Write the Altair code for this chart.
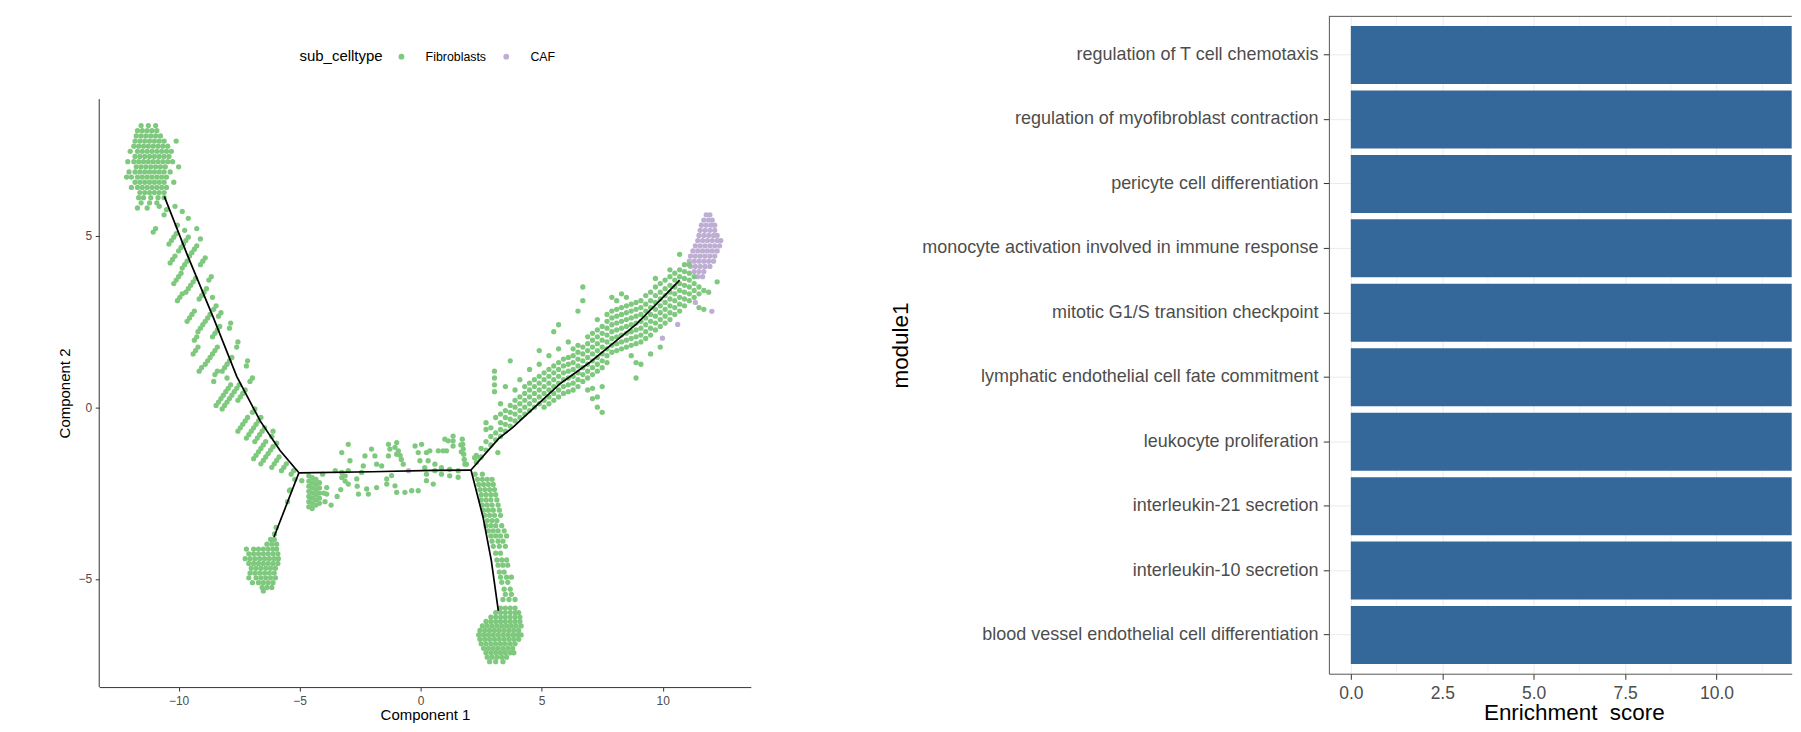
import altair as alt
import pandas as pd

# ---------------- left panel: cell trajectory ----------------
# dense top-left state: {Component 2 value: [Component 1 values]}
TL_BLOB = {
    8.2: [-11.55, -11.25, -10.95],
    8.05: [-11.7, -11.5, -11.3, -11.1, -10.9],
    7.9: [-11.75, -11.55, -11.35, -11.15, -10.95, -10.75],
    7.75: [-11.8, -11.6, -11.4, -11.2, -11.0, -10.8, -10.6, -10.1],
    7.6: [-11.85, -11.65, -11.45, -11.25, -11.05, -10.85, -10.65, -10.45],
    7.45: [-12.0, -11.7, -11.5, -11.3, -11.1, -10.9, -10.7, -10.5, -10.3],
    7.3: [-11.8, -11.6, -11.4, -11.2, -11.0, -10.8, -10.6, -10.4],
    7.15: [-12.1, -11.85, -11.65, -11.45, -11.25, -11.05, -10.85, -10.65, -10.45, -10.25],
    7.0: [-11.75, -11.55, -11.35, -11.15, -10.95, -10.75, -10.55, -10.0],
    6.85: [-12.05, -11.8, -11.6, -11.4, -11.2, -11.0, -10.8, -10.6, -10.35],
    6.7: [-12.15, -11.95, -11.7, -11.5, -11.3, -11.1, -10.9, -10.7, -10.5],
    6.55: [-11.8, -11.6, -11.4, -11.2, -11.0, -10.8, -10.6, -10.2],
    6.4: [-11.95, -11.7, -11.5, -11.3, -11.1, -10.9, -10.7, -10.5],
    6.25: [-11.6, -11.4, -11.2, -11.0, -10.8, -10.6],
    6.1: [-11.65, -11.45, -11.15, -10.85, -10.6],
    5.95: [-11.55, -11.2, -10.9],
    5.8: [-11.7, -11.3],
}

# upper-left branch: (Component 1, Component 2)
TL_BRANCH = [
    (-11.05, 5.1), (-10.95, 5.2), (-10.8, 5.85), (-10.6, 5.6), (-10.5, 5.75), (-10.15, 5.85),
    (-9.85, 5.7), (-9.6, 5.5), (-10.05, 5.3), (-9.75, 5.15), (-9.25, 5.2), (-9.1, 4.9),
    (-10.4, 4.75), (-10.3, 4.85), (-10.2, 4.95), (-10.1, 5.05), (-10.0, 4.55), (-9.9, 4.65),
    (-9.8, 4.75), (-9.7, 4.85), (-9.6, 4.95), (-9.55, 4.4), (-9.45, 4.5), (-9.35, 4.6),
    (-9.25, 4.7), (-10.35, 4.2), (-10.25, 4.3), (-10.15, 4.4), (-9.1, 4.15), (-9.0, 4.25),
    (-8.9, 4.35), (-9.85, 4.05), (-9.75, 4.15), (-9.65, 4.25),
    (-10.2, 3.6), (-10.1, 3.7), (-10.0, 3.8), (-9.9, 3.9), (-9.7, 3.35), (-9.6, 3.45),
    (-9.5, 3.55), (-9.4, 3.65), (-9.3, 3.75), (-9.15, 3.15), (-9.05, 3.25), (-8.95, 3.35),
    (-8.85, 3.45), (-8.75, 3.7), (-8.65, 3.8), (-10.05, 3.1), (-9.95, 3.2), (-9.85, 3.3),
    (-8.6, 3.2),
    (-9.65, 2.5), (-9.55, 2.6), (-9.45, 2.7), (-9.35, 2.8), (-9.2, 2.2), (-9.1, 2.3),
    (-9.0, 2.4), (-8.9, 2.5), (-8.8, 2.6), (-8.7, 2.7), (-8.55, 2.85), (-8.45, 2.95),
    (-8.35, 2.65), (-8.25, 2.75), (-8.6, 2.05), (-8.5, 2.15), (-8.4, 2.25), (-8.3, 2.35),
    (-9.35, 1.95), (-9.25, 2.05), (-7.9, 2.3), (-7.85, 2.45),
    (-9.4, 1.55), (-9.3, 1.65), (-9.2, 1.75), (-8.9, 1.25), (-8.8, 1.35), (-8.7, 1.45),
    (-8.6, 1.55), (-8.5, 1.65), (-8.4, 1.75), (-8.2, 1.05), (-8.1, 1.15), (-8.0, 1.25),
    (-7.9, 1.35), (-7.8, 1.45), (-8.5, 0.95), (-8.4, 1.05), (-7.6, 1.75), (-7.55, 1.9),
    (-7.2, 1.2), (-7.15, 1.35), (-9.15, 1.05), (-9.05, 1.15),
    (-8.45, 0.05), (-8.35, 0.15), (-8.25, 0.25), (-8.15, 0.35), (-8.05, 0.45), (-7.95, 0.55),
    (-7.85, 0.65), (-8.2, -0.05), (-8.1, 0.05), (-8.0, 0.15), (-7.9, 0.25), (-7.8, 0.35),
    (-7.7, 0.45), (-7.6, 0.55), (-7.5, 0.65), (-7.55, 0.2), (-7.45, 0.3), (-7.35, 0.4),
    (-7.25, 0.5), (-7.05, 0.75), (-6.95, 0.85), (-8.0, 0.85), (-8.55, 0.75),
    (-7.55, -0.7), (-7.45, -0.6), (-7.35, -0.5), (-7.25, -0.4), (-7.15, -0.3), (-7.2, -0.9),
    (-7.1, -0.8), (-7.0, -0.7), (-6.9, -0.6), (-6.8, -0.5), (-6.7, -0.4), (-6.6, -0.3),
    (-6.85, -1.0), (-6.75, -0.9), (-6.65, -0.8), (-6.55, -0.7), (-6.45, -0.6), (-6.95, -0.15),
    (-6.85, -0.05), (-6.15, -0.85), (-6.1, -0.7),
    (-6.9, -1.5), (-6.8, -1.4), (-6.7, -1.3), (-6.6, -1.2), (-6.5, -1.1), (-6.4, -1.0),
    (-6.6, -1.65), (-6.5, -1.55), (-6.4, -1.45), (-6.3, -1.35), (-6.2, -1.25), (-6.1, -1.15),
    (-6.15, -1.75), (-6.05, -1.65), (-5.95, -1.55), (-5.85, -1.45), (-5.75, -1.85),
    (-5.65, -1.75), (-5.55, -1.65), (-5.35, -1.95), (-5.25, -1.85), (-5.95, -1.05),
]

# lower-left state: {Component 2: [Component 1]}
BL_BLOB = {
    -3.85: [-6.2, -6.05],
    -3.99: [-6.35, -6.15, -5.95],
    -4.13: [-7.2, -6.9, -6.7, -6.5, -6.3, -6.1, -5.95],
    -4.27: [-7.1, -6.9, -6.7, -6.5, -6.3, -6.1, -5.9],
    -4.41: [-7.25, -7.05, -6.85, -6.65, -6.45, -6.25, -6.05, -5.88],
    -4.55: [-7.1, -6.9, -6.7, -6.5, -6.3, -6.1, -5.9],
    -4.69: [-7.0, -6.8, -6.6, -6.4, -6.2, -6.0],
    -4.83: [-7.05, -6.85, -6.65, -6.45, -6.25, -6.05],
    -4.97: [-7.1, -6.8, -6.6, -6.4, -6.2, -6.0],
    -5.11: [-6.95, -6.7, -6.5, -6.3, -6.1],
    -5.25: [-6.55, -6.35, -6.15],
    -5.35: [-6.5],
}
BL_LINK = [(-5.2, -2.1), (-5.39, -2.41), (-5.5, -2.75), (-5.97, -3.5), (-6.04, -3.69)]

# middle branch
MID = [
    (-4.91, -2.14), (-5.42, -2.43),
    (-4.62, -2.0), (-4.62, -2.15), (-4.62, -2.3), (-4.62, -2.45), (-4.62, -2.6), (-4.62, -2.75), (-4.62, -2.9),
    (-4.48, -2.05), (-4.48, -2.2), (-4.48, -2.35), (-4.48, -2.5), (-4.48, -2.65), (-4.48, -2.8), (-4.48, -2.95),
    (-4.33, -2.1), (-4.33, -2.25), (-4.33, -2.4), (-4.33, -2.55), (-4.33, -2.7), (-4.33, -2.85),
    (-4.18, -2.2), (-4.18, -2.35), (-4.18, -2.5), (-4.18, -2.65), (-4.18, -2.8),
    (-4.05, -1.95), (-4.0, -2.5), (-3.88, -2.34), (-3.88, -2.53),
    (-3.95, -2.75), (-3.7, -2.85), (-3.45, -2.6), (-3.3, -2.4),
    (-3.53, -1.85), (-3.26, -1.32), (-2.99, -1.08), (-2.92, -1.56),
    (-3.26, -1.9), (-3.26, -2.05), (-3.12, -2.0), (-3.12, -2.15), (-2.99, -1.85), (-2.99, -2.24),
    (-2.64, -2.09), (-2.62, -2.3), (-2.57, -2.53), (-2.44, -1.9), (-2.37, -1.71),
    (-2.3, -1.42), (-2.03, -1.22), (-1.89, -1.42), (-1.82, -1.66), (-2.23, -2.38), (-2.16, -2.53), (-1.82, -2.34),
    (-1.61, -1.71), (-1.33, -1.42), (-1.33, -1.08), (-1.27, -1.22), (-1.06, -1.17), (-0.99, -1.37), (-0.99, -1.03),
    (-1.4, -2.09), (-1.4, -2.24), (-1.2, -1.99), (-1.06, -2.29), (-0.99, -2.48),
    (-0.92, -1.27), (-0.85, -1.4), (-0.8, -1.52), (-0.72, -1.66),
    (-0.65, -2.48), (-0.37, -2.43), (-0.1, -2.43),
    (-0.23, -1.13), (-0.1, -1.32), (-0.03, -1.56), (0.04, -1.08), (0.24, -1.32), (0.31, -1.56), (0.38, -1.27),
    (0.17, -1.76), (0.24, -1.95), (0.24, -2.14), (0.59, -1.66), (0.59, -1.85), (0.52, -2.24),
    (0.73, -1.27), (0.93, -1.27), (1.0, -0.93), (1.07, -1.27), (1.14, -0.98), (0.86, -1.76), (0.86, -1.95),
    (1.2, -1.81), (1.2, -2.0), (1.34, -0.84), (1.34, -0.98), (1.34, -1.13),
    (1.72, -0.93), (1.74, -1.08), (1.76, -1.22), (1.78, -1.37), (1.8, -1.52), (1.83, -1.66), (1.66, -1.1), (1.68, -1.3),
    (1.55, -1.85), (1.55, -2.04), (1.89, -1.66), (2.23, -1.47), (2.44, -1.47), (3.19, -1.32),
]

# lower branch: {Component 2: [Component 1]}
BOTTOM_BRANCH = {
    -1.95: [2.25, 2.55],
    -2.1: [2.35, 2.55, 2.75, 2.95],
    -2.25: [2.4, 2.6, 2.8, 3.0],
    -2.4: [2.45, 2.65, 2.85, 3.05],
    -2.55: [2.5, 2.7, 2.9, 3.1],
    -2.7: [2.5, 2.7, 2.9, 3.15],
    -2.85: [2.55, 2.75, 2.95, 3.2],
    -3.0: [2.6, 2.8, 3.0, 3.25],
    -3.15: [2.65, 2.85, 3.05, 3.3],
    -3.3: [2.75, 2.95, 3.15],
    -3.45: [2.7, 2.9, 3.1, 3.35],
    -3.6: [2.8, 3.0, 3.2, 3.45],
    -3.75: [2.9, 3.1, 3.3, 3.55],
    -3.9: [2.95, 3.2, 3.4],
    -4.05: [3.0, 3.25, 3.5],
    -4.25: [3.1, 3.3],
    -4.45: [3.15, 3.35, 3.55],
    -4.6: [3.2, 3.4, 3.6],
    -4.8: [3.25, 3.45],
    -4.95: [3.3, 3.55, 3.75],
    -5.1: [3.35, 3.6],
    -5.3: [3.45, 3.7],
    -5.45: [3.5, 3.75],
    -5.6: [3.4, 3.65, 3.9],
}

# lower state: {Component 2: [Component 1]}
BOTTOM_BLOB = {
    -5.85: [3.3, 3.5, 3.7, 3.9],
    -5.98: [3.1, 3.3, 3.5, 3.7, 3.9, 4.05],
    -6.11: [2.9, 3.1, 3.3, 3.5, 3.7, 3.9, 4.1],
    -6.24: [2.7, 2.9, 3.1, 3.3, 3.5, 3.7, 3.9, 4.1],
    -6.37: [2.55, 2.75, 2.95, 3.15, 3.35, 3.55, 3.75, 3.95, 4.15],
    -6.5: [2.45, 2.65, 2.85, 3.05, 3.25, 3.45, 3.65, 3.85, 4.05],
    -6.63: [2.4, 2.6, 2.8, 3.0, 3.2, 3.4, 3.6, 3.8, 4.0, 4.15],
    -6.76: [2.45, 2.65, 2.85, 3.05, 3.25, 3.45, 3.65, 3.85, 4.05],
    -6.89: [2.5, 2.7, 2.9, 3.1, 3.3, 3.5, 3.7, 3.9],
    -7.02: [2.6, 2.8, 3.0, 3.2, 3.4, 3.6, 3.8],
    -7.15: [2.7, 2.9, 3.1, 3.3, 3.5, 3.7, 3.85],
    -7.28: [2.75, 2.95, 3.15, 3.35, 3.55],
    -7.41: [2.85, 3.1, 3.4],
}

# right branch: {Component 1: [Component 2]}
RIGHT_BRANCH = {
    2.3: [-1.6, -1.4],
    2.5: [-1.45, -1.2],
    2.7: [-1.25, -1.0, -0.65, -0.45],
    2.9: [-1.1, -0.85, -0.6],
    3.05: [0.45, 0.65, 0.85, 1.05],
    3.1: [-0.95, -0.75, -0.3],
    3.3: [-0.85, -0.65, -0.45, -0.2, 0.1],
    3.5: [-0.7, -0.5, -0.3, -0.1, 0.6],
    3.7: [-0.55, -0.35, -0.15, 0.05, 1.35],
    3.9: [-0.4, -0.2, 0.0, 0.2, 0.5],
    4.1: [-0.3, -0.1, 0.1, 0.3, 0.8],
    4.3: [-0.2, 0.0, 0.2, 0.4, 0.6],
    4.5: [-0.1, 0.1, 0.3, 0.5, 0.7, 1.1],
    4.7: [0.0, 0.2, 0.4, 0.6, 0.8],
    4.9: [0.1, 0.3, 0.5, 0.7, 0.9, 1.25, 1.65],
    5.1: [0.0, 0.2, 0.4, 0.6, 0.8, 1.0],
    5.3: [0.1, 0.3, 0.5, 0.7, 0.9, 1.1, 1.5],
    5.5: [0.2, 0.4, 0.6, 0.8, 1.0, 1.2, 2.2],
    5.7: [0.3, 0.5, 0.7, 0.9, 1.1, 1.3, 1.7, 2.4],
    5.9: [0.4, 0.6, 0.8, 1.0, 1.2, 1.4],
    6.1: [0.45, 0.65, 0.85, 1.05, 1.25, 1.45, 1.9],
    6.3: [0.5, 0.7, 0.9, 1.1, 1.3, 1.5, 1.7],
    6.5: [0.6, 0.8, 1.0, 1.2, 1.4, 1.6, 1.8, 2.8],
    6.7: [0.75, 0.95, 1.15, 1.35, 1.55, 1.75, 3.1, 3.5],
    6.9: [0.85, 1.05, 1.25, 1.45, 1.65, 1.85, 2.05, 0.5],
    7.1: [0.95, 1.15, 1.35, 1.55, 1.75, 1.95, 2.15, 0.25, 0.55],
    7.3: [1.05, 1.25, 1.45, 1.65, 1.85, 2.05, 2.25, 2.55, 0.0, 0.3],
    7.5: [1.15, 1.35, 1.55, 1.75, 1.95, 2.15, 2.35, -0.15, 0.6],
    7.7: [1.3, 1.5, 1.7, 1.9, 2.1, 2.3, 2.5, 2.7],
    7.9: [1.6, 1.8, 2.0, 2.2, 2.4, 2.6, 2.8, 3.2],
    8.1: [1.65, 1.85, 2.05, 2.25, 2.45, 2.65, 2.85, 3.1],
    8.3: [1.7, 1.9, 2.1, 2.3, 2.5, 2.7, 2.9, 3.3],
    8.5: [1.75, 1.95, 2.15, 2.35, 2.55, 2.75, 2.95, 3.2],
    8.7: [1.8, 2.0, 2.2, 2.4, 2.6, 2.8, 3.0, 1.5],
    8.9: [1.85, 2.05, 2.25, 2.45, 2.65, 2.85, 3.05, 0.85, 1.3],
    9.1: [1.9, 2.1, 2.3, 2.5, 2.7, 2.9, 3.1, 1.25],
    9.3: [2.0, 2.2, 2.4, 2.6, 2.8, 3.0, 3.25],
    9.5: [2.1, 2.3, 2.5, 2.7, 2.9, 3.1, 3.35, 1.55],
    9.7: [2.25, 2.45, 2.65, 2.85, 3.05, 3.25, 3.5, 3.75],
    9.9: [2.35, 2.55, 2.75, 2.95, 3.15, 3.35, 3.6, 1.75],
    10.1: [2.45, 2.65, 2.85, 3.05, 3.25, 3.45, 3.7],
    10.3: [2.55, 2.75, 2.95, 3.15, 3.35, 3.55, 3.8, 4.0],
    10.5: [2.7, 2.9, 3.1, 3.3, 3.5, 3.7, 3.9],
    10.7: [2.8, 3.0, 3.2, 3.4, 3.6, 3.8, 4.0, 4.45],
    10.9: [2.95, 3.15, 3.35, 3.55, 3.75, 3.95, 4.15],
    11.1: [3.1, 3.3, 3.5, 3.7, 3.9, 4.15],
    11.3: [3.2, 3.4, 3.6, 3.8],
    11.5: [2.9, 3.3, 3.5],
    11.7: [2.85, 3.4],
    11.9: [3.35],
    12.25: [3.65],
}

# CAF cells: {Component 2: [Component 1]}
CAF_BLOB = {
    5.6: [11.8, 11.95],
    5.45: [11.7, 11.9, 12.05],
    5.3: [11.6, 11.8, 12.0, 12.15],
    5.15: [11.55, 11.75, 11.95, 12.15],
    5.0: [11.5, 11.7, 11.9, 12.1, 12.25],
    4.85: [11.45, 11.65, 11.85, 12.05, 12.25, 12.4],
    4.7: [11.35, 11.55, 11.75, 11.95, 12.15, 12.35],
    4.55: [11.25, 11.45, 11.65, 11.85, 12.05, 12.25],
    4.4: [11.15, 11.35, 11.55, 11.75, 11.95, 12.15],
    4.25: [11.1, 11.3, 11.5, 11.7, 11.9, 12.1],
    4.1: [11.15, 11.35, 11.55, 11.75, 11.95],
    3.95: [11.3, 11.5, 11.7],
    3.8: [11.45, 11.65],
}
CAF_EXTRA = [(12.03, 2.79), (9.99, 2.01), (10.62, 2.41), (-0.5, -1.85), (11.35, 3.05)]

# principal-graph segments (ordered vertices)
TRAJECTORY = {
    "A": [(-10.59, 6.14), (-9.65, 4.45), (-8.56, 2.6), (-7.6, 0.9), (-6.63, -0.4), (-5.81, -1.26), (-5.03, -1.91)],
    "B": [(-5.03, -1.91), (-6.06, -3.78)],
    "C": [(-5.03, -1.91), (-2.0, -1.88), (0.5, -1.84), (2.08, -1.83)],
    "D": [(2.08, -1.83), (2.58, -3.21), (2.92, -4.47), (3.21, -5.93)],
    "E": [(2.08, -1.83), (3.23, -0.91), (3.81, -0.59), (5.74, 0.67), (6.98, 1.3), (8.9, 2.41), (9.86, 3.09), (10.7, 3.7)],
}

CELLTYPES = ["Fibroblasts", "CAF"]
CELL_COLORS = ["#7FC97F", "#BEAED4"]
X_TICKS_L = [-10, -5, 0, 5, 10]
Y_TICKS_L = [-5, 0, 5]

# ---------------- right panel: enrichment ----------------
TERMS = [
    "regulation of T cell chemotaxis",
    "regulation of myofibroblast contraction",
    "pericyte cell differentiation",
    "monocyte activation involved in immune response",
    "mitotic G1/S transition checkpoint",
    "lymphatic endothelial cell fate commitment",
    "leukocyte proliferation",
    "interleukin-21 secretion",
    "interleukin-10 secretion",
    "blood vessel endothelial cell differentiation",
]
SCORES = [12.2, 12.2, 12.2, 12.2, 12.2, 12.2, 12.2, 12.2, 12.2, 12.2]
X_TICKS_R = [0, 2.5, 5, 7.5, 10, 12.5]
MINOR_TICKS_R = [1.25, 3.75, 6.25, 8.75, 11.25]

# ---------------- build tables ----------------
rows = []
for y, xs in CAF_BLOB.items():
    rows += [(x, y, "CAF") for x in xs]
rows += [(x, y, "CAF") for x, y in CAF_EXTRA]
for y, xs in TL_BLOB.items():
    rows += [(x, y, "Fibroblasts") for x in xs]
rows += [(x, y, "Fibroblasts") for x, y in TL_BRANCH]
for y, xs in BL_BLOB.items():
    rows += [(x, y, "Fibroblasts") for x in xs]
rows += [(x, y, "Fibroblasts") for x, y in BL_LINK]
rows += [(x, y, "Fibroblasts") for x, y in MID]
for y, xs in BOTTOM_BRANCH.items():
    rows += [(x, y, "Fibroblasts") for x in xs]
for y, xs in BOTTOM_BLOB.items():
    rows += [(x, y, "Fibroblasts") for x in xs]
for x, ys in RIGHT_BRANCH.items():
    rows += [(x, y, "Fibroblasts") for y in ys]
cells = pd.DataFrame(rows, columns=["c1", "c2", "sub_celltype"])

traj_rows = []
for seg, pts in TRAJECTORY.items():
    for k, (x, y) in enumerate(pts):
        traj_rows.append((seg, k, x, y))
traj = pd.DataFrame(traj_rows, columns=["seg", "k", "c1", "c2"])

FONT = "Liberation Sans"
X_DOM_L = [-13.28, 13.64]
Y_DOM_L = [-8.15, 11.38]
Y_AXIS_TOP = 8.97

xl = alt.X("c1:Q", scale=alt.Scale(domain=X_DOM_L, nice=False, zero=False),
           axis=alt.Axis(values=X_TICKS_L, title="Component 1", grid=False,
                         domainColor="#333333", tickColor="#333333", tickSize=4,
                         labelPadding=4, labelFontSize=12, labelColor="#4D4D4D",
                         titleFontSize=15, titleColor="black", titleFontWeight="normal",
                         titleY=32.7, titleBaseline="alphabetic"))
yl = alt.Y("c2:Q", scale=alt.Scale(domain=Y_DOM_L, nice=False, zero=False),
           axis=alt.Axis(values=Y_TICKS_L, title="Component 2", grid=False, domain=False,
                         tickColor="#333333", tickSize=4, labelPadding=3.5,
                         labelFontSize=12, labelColor="#4D4D4D",
                         titleFontSize=15, titleColor="black", titleFontWeight="normal",
                         titleX=-29.3, titleY=377.3, titleBaseline="alphabetic",
                         titleAlign="center"))

points = alt.Chart(cells).mark_circle(size=28, opacity=1).encode(
    x=xl, y=yl,
    color=alt.Color("sub_celltype:N",
                    scale=alt.Scale(domain=CELLTYPES, range=CELL_COLORS),
                    legend=alt.Legend(orient="none", legendX=200.6, legendY=34,
                                      direction="horizontal", titleOrient="left",
                                      title="sub_celltype", titleFontSize=15,
                                      titleFontWeight="normal", titleColor="black",
                                      labelFontSize=12.4, labelColor="black",
                                      symbolType="circle", symbolSize=34,
                                      labelOffset=18, columnPadding=14, titlePadding=12)),
)
lines = alt.Chart(traj).mark_line(color="black", strokeWidth=1.7).encode(
    x="c1:Q", y="c2:Q", detail="seg:N", order="k:Q")
yaxis_line = alt.Chart(pd.DataFrame({"lo": [Y_DOM_L[0]], "hi": [Y_AXIS_TOP]})).mark_rule(
    color="#333333", strokeWidth=1).encode(x=alt.value(0), y="lo:Q", y2="hi:Q")

left = alt.layer(points, lines, yaxis_line).properties(
    width=652.8, height=672, view=alt.ViewBackground(stroke="transparent"))

# right panel: the figure is cut at the right edge of the page
RIGHT_W = 463.7
RIGHT_H = 658.6
X_DOM_R = [-0.6, 12.055]
BORDER = "#555555"
xr = alt.X("score:Q", scale=alt.Scale(domain=X_DOM_R, nice=False, zero=False),
           axis=alt.Axis(values=X_TICKS_R, format=".1f", grid=True, gridColor="#EBEBEB",
                         domain=True, domainColor=BORDER, tickSize=5.6, tickColor="#333333",
                         labelFontSize=17.5, labelColor="#4D4D4D", labelPadding=5,
                         title="Enrichment\u00a0 score", titleFontSize=22.5,
                         titleColor="black", titleFontWeight="normal",
                         titleX=245.4, titleAlign="center",
                         titleY=45.7, titleBaseline="alphabetic"))
yr = alt.Y("module1:N", sort=TERMS,
           scale=alt.Scale(paddingInner=0.1, paddingOuter=0.15),
           axis=alt.Axis(title="module1", bandPosition=0.5, grid=True, gridColor="#EBEBEB",
                         domain=True, domainColor=BORDER, tickSize=5.6, tickColor="#333333",
                         labelFontSize=18, labelColor="#4D4D4D", labelPadding=5.4,
                         labelLimit=1000, titleFontSize=22.5, titleColor="black",
                         titleFontWeight="normal", titleX=-421.8,
                         titleBaseline="alphabetic"))

minor = alt.Chart(pd.DataFrame({"v": MINOR_TICKS_R})).mark_rule(
    color="#EBEBEB", strokeWidth=0.6).encode(
    x=alt.X("v:Q", scale=alt.Scale(domain=X_DOM_R, nice=False, zero=False)))
bars_df = pd.DataFrame({"module1": TERMS, "score": SCORES})
bars = alt.Chart(bars_df).mark_bar(color="#34689A", clip=True).encode(
    x=xr, x2=alt.datum(0), y=yr)
top_border = alt.Chart(pd.DataFrame({"k": [0]})).mark_rule(color=BORDER, strokeWidth=1).encode(
    x=alt.value(0), x2=alt.value(RIGHT_W), y=alt.value(0))

right = alt.layer(minor, bars, top_border).properties(
    width=RIGHT_W, height=RIGHT_H, view=alt.ViewBackground(stroke="transparent"))

chart = alt.hconcat(left, right, spacing=137).properties(
    padding={"left": 49.4, "top": 6.7, "right": 0, "bottom": 0}
).configure(font=FONT)

chart.save("out.html", embed_options={"renderer": "svg", "actions": False})
